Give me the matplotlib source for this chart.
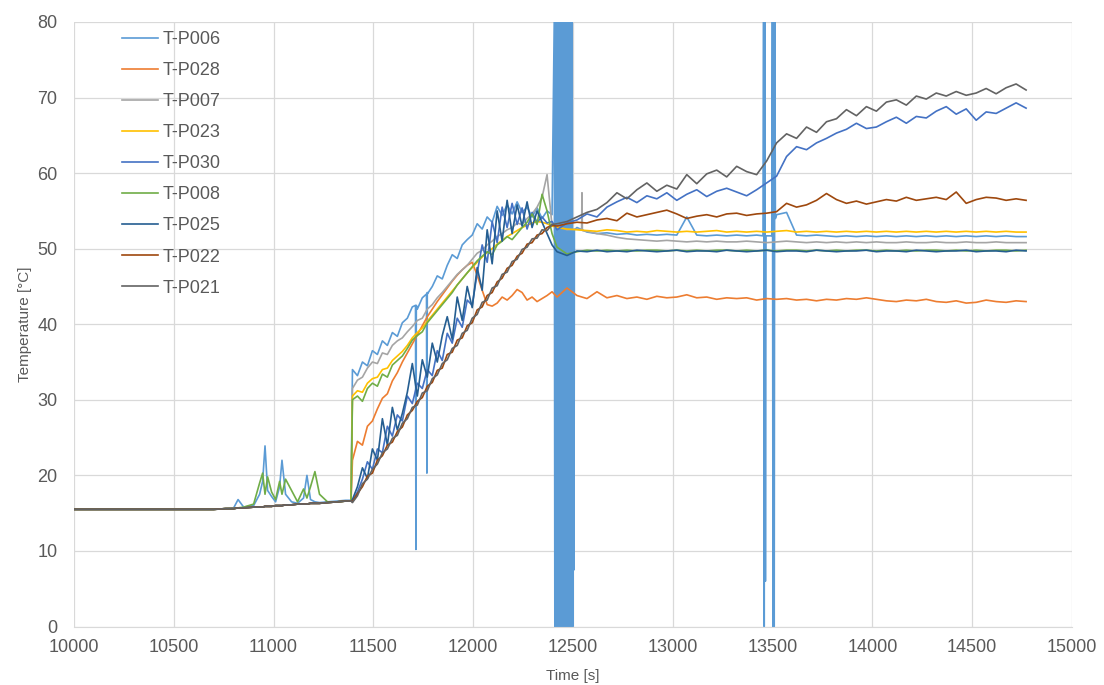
import numpy as np
import matplotlib
matplotlib.use("Agg")
import matplotlib.pyplot as plt

plt.rcParams['font.family'] = ['Liberation Sans', 'DejaVu Sans']

# sample times [s]
t_early = [10000, 10200, 10400, 10600, 10700, 10760, 10800, 10822, 10850, 10900,
           10930, 10945, 10957, 10970, 10990, 11010, 11030, 11042, 11060, 11090,
           11120, 11150, 11167, 11185, 11207, 11230, 11270, 11320, 11360, 11388]
t_rise = list(range(11395, 12396, 25))
t_late = list(range(12420, 14771, 50))

# before the heating all sensors read about the same
early_flat = [15.5, 15.5, 15.5, 15.5, 15.5, 15.6, 15.6, 15.7, 15.7, 15.8,
              15.8, 15.8, 15.9, 15.9, 15.9, 16.0, 16.0, 16.0, 16.1, 16.1,
              16.2, 16.2, 16.2, 16.3, 16.3, 16.3, 16.4, 16.5, 16.6, 16.6]

p006_early = [15.5, 15.5, 15.5, 15.5, 15.5, 15.6, 15.7, 16.8, 15.8, 16.0,
              17.5, 19.2, 23.9, 18.0, 17.2, 16.5, 18.5, 22.0, 17.5, 16.5,
              16.3, 17.0, 20.0, 16.8, 16.5, 16.4, 16.5, 16.6, 16.7, 16.7]
p006_rise = [34.0, 33.2, 35.0, 34.5, 36.5, 36.0, 37.8, 37.2, 38.9, 38.4,
             40.2, 40.8, 42.3, 42.0, 43.5, 44.2, 45.0, 46.4, 46.0, 47.8,
             49.2, 48.7, 50.5, 51.2, 51.8, 53.3, 52.6, 54.2, 53.5, 55.6,
             54.4, 55.8, 54.6, 56.2, 54.8, 55.5, 54.2, 55.4, 54.0, 55.0,
             54.5]
p006_late = [52.5, 52.3, 52.8, 52.2, 52.0, 52.1, 51.9, 52.0, 51.8, 51.9,
             51.8, 51.9, 51.8, 54.2, 51.8, 51.7, 51.8, 51.7, 51.8, 51.7,
             51.8, 51.7, 54.5, 54.8, 51.8, 51.7, 51.8, 51.7, 51.6, 51.7,
             51.6, 51.7, 51.6, 51.7, 51.6, 51.7, 51.6, 51.7, 51.6, 51.7,
             51.6, 51.7, 51.6, 51.7, 51.6, 51.7, 51.6, 51.6]
# signal dropouts of T-P006
p006_glitch_t = [11711, 11713, 11715, 11766, 11768, 11770,
                 12406, 12409, 12412, 12415, 12418, 12421, 12424, 12427, 12430, 12433,
                 12436, 12439, 12442, 12445, 12448, 12451, 12454, 12457, 12460, 12463,
                 12466, 12469, 12472, 12475, 12478, 12481, 12484, 12487, 12490, 12493,
                 12496, 12499,
                 12503, 12505, 12507,
                 13452, 13455, 13458, 13461, 13464, 13467,
                 13496, 13499, 13502, 13505, 13508, 13511, 13514]
p006_glitch_v = [42.5, 10.2, 42.5, 44.0, 20.3, 44.0,
                 80, 0, 80, 0, 80, 0, 80, 0, 80, 0,
                 80, 0, 80, 0, 80, 0, 80, 0, 80, 0,
                 80, 0, 80, 0, 80, 0, 80, 0, 80, 0,
                 80, 0,
                 52.5, 7.5, 52.5,
                 51.7, 80, 0, 80, 6.0, 51.7,
                 51.7, 80, 0, 80, 0, 80, 54.0]

p028_rise = [22.0, 24.5, 24.0, 26.5, 27.2, 28.8, 30.2, 30.8, 32.5, 33.6,
             35.0, 36.2, 37.4, 38.6, 39.8, 41.0, 42.0, 43.0, 43.9, 44.8,
             45.7, 46.5, 47.2, 47.8, 48.2, 46.5, 44.5, 42.6, 42.4, 42.8,
             43.6, 43.2, 43.8, 44.6, 44.2, 43.2, 43.6, 43.0, 43.4, 43.8,
             44.3]
p028_late = [43.6, 44.8, 43.8, 43.4, 44.3, 43.5, 43.8, 43.4, 43.6, 43.3,
             43.7, 43.5, 43.6, 43.9, 43.5, 43.6, 43.3, 43.5, 43.4, 43.5,
             43.2, 43.4, 43.3, 43.4, 43.2, 43.3, 43.1, 43.3, 43.2, 43.4,
             43.3, 43.5, 43.3, 43.1, 43.0, 43.2, 43.1, 43.3, 43.0, 42.9,
             43.1, 42.8, 42.9, 43.2, 43.0, 42.9, 43.1, 43.0]

p007_rise = [31.5, 32.6, 33.0, 34.2, 35.0, 34.8, 36.2, 36.0, 37.2, 37.8,
             38.2, 39.0, 39.7, 40.5, 40.8, 42.0, 42.6, 43.5, 44.2, 45.0,
             45.8, 46.6, 47.2, 47.8, 48.6, 49.4, 49.8, 50.5, 51.0, 51.6,
             52.0, 52.5, 52.8, 53.4, 53.2, 54.0, 54.6, 55.5, 56.8, 59.8,
             53.0]
p007_late = [53.0, 52.5, 52.6, 52.3, 52.0, 51.8, 51.5, 51.3, 51.2, 51.1,
             51.0, 51.1, 51.0, 50.9, 51.0, 50.9, 51.0, 50.9, 50.9, 51.0,
             50.9, 50.8, 50.9, 51.0, 50.9, 50.8, 50.9, 50.8, 50.9, 50.8,
             50.9, 50.8, 50.9, 50.8, 50.8, 50.9, 50.8, 50.8, 50.9, 50.8,
             50.8, 50.9, 50.8, 50.8, 50.9, 50.8, 50.8, 50.8]
p007_glitch_t = [12543, 12545, 12547]
p007_glitch_v = [52.5, 57.4, 52.4]

p023_rise = [30.5, 31.2, 31.0, 32.2, 32.8, 33.0, 34.0, 34.2, 35.2, 35.8,
             36.4, 37.2, 38.2, 38.9, 39.5, 40.4, 41.2, 42.0, 42.8, 43.6,
             44.4, 45.2, 46.0, 46.8, 47.5, 48.2, 48.9, 49.5, 50.0, 50.6,
             51.1, 51.6, 52.0, 52.4, 52.8, 53.1, 53.4, 53.6, 53.5, 53.3,
             53.0]
p023_late = [52.8, 52.6, 52.5, 52.4, 52.3, 52.5, 52.4, 52.2, 52.3, 52.2,
             52.4, 52.3, 52.2, 52.3, 52.2, 52.3, 52.4, 52.2, 52.3, 52.2,
             52.3, 52.2, 52.3, 52.4, 52.2, 52.3, 52.2, 52.3, 52.2, 52.3,
             52.2, 52.3, 52.2, 52.3, 52.2, 52.3, 52.2, 52.3, 52.2, 52.3,
             52.2, 52.3, 52.2, 52.3, 52.2, 52.3, 52.2, 52.2]

p030_rise = [16.6, 17.8, 19.5, 21.8, 20.8, 23.5, 23.0, 26.5, 25.2, 28.0,
             27.2, 30.5, 29.5, 32.2, 31.5, 34.0, 33.2, 36.5, 35.2, 38.8,
             37.5, 40.8, 39.6, 43.2, 42.5, 46.8, 50.5, 48.2, 53.6, 50.8,
             55.5, 52.8, 56.0, 53.2, 55.4, 52.6, 54.8, 53.5, 54.2, 53.4,
             53.6]
p030_late = [52.5, 53.4, 53.8, 54.6, 54.2, 55.5, 56.2, 56.8, 56.1, 57.0,
             56.6, 57.4, 56.4, 57.2, 57.8, 56.9, 57.6, 58.0, 57.5, 57.0,
             57.8, 58.7, 59.6, 62.2, 63.5, 63.1, 64.0, 64.6, 65.3, 65.8,
             66.6, 65.9, 66.1, 66.8, 67.4, 66.6, 67.5, 67.3, 68.2, 68.8,
             67.8, 68.5, 67.0, 68.1, 67.9, 68.6, 69.3, 68.6]

p008_early = [15.5, 15.5, 15.5, 15.5, 15.5, 15.6, 15.6, 15.7, 15.8, 16.2,
              19.0, 20.3, 17.5, 19.8, 17.8, 16.8, 19.2, 17.5, 19.5, 18.0,
              16.5, 18.2, 17.0, 18.5, 20.5, 17.5, 16.5, 16.5, 16.6, 16.6]
p008_rise = [30.0, 30.5, 29.8, 31.5, 32.2, 31.8, 33.4, 33.0, 34.6, 35.2,
             35.8, 36.8, 37.9, 38.5, 39.0, 40.2, 41.0, 41.8, 42.6, 43.4,
             44.2, 45.2, 46.0, 46.8, 47.6, 48.4, 49.0, 49.6, 49.2, 50.5,
             51.0, 51.6, 51.2, 52.0, 52.8, 53.5, 54.6, 53.2, 57.2, 55.0,
             52.0]
p008_late = [50.2, 49.3, 49.6, 49.8, 49.7, 49.8, 49.7, 49.8, 49.7, 49.8,
             49.8, 49.7, 49.8, 49.7, 49.8, 49.7, 49.8, 49.8, 49.7, 49.8,
             49.7, 49.8, 49.7, 49.8, 49.8, 49.7, 49.8, 49.7, 49.8, 49.7,
             49.8, 49.8, 49.7, 49.8, 49.7, 49.8, 49.7, 49.8, 49.8, 49.7,
             49.8, 49.7, 49.8, 49.7, 49.8, 49.8, 49.7, 49.8]

p025_rise = [16.8, 18.5, 21.0, 19.6, 23.5, 22.0, 27.5, 24.0, 29.0, 26.0,
             28.2, 31.0, 34.8, 30.5, 35.3, 33.0, 37.5, 35.0, 38.5, 41.0,
             38.0, 43.6, 40.5, 45.0, 42.2, 47.5, 44.5, 52.5, 48.0, 55.0,
             51.0, 56.4, 52.0, 55.8, 53.0, 56.2, 52.8, 55.0, 53.5, 52.0,
             50.5]
p025_late = [49.6, 49.1, 49.7, 49.6, 49.8, 49.6, 49.7, 49.6, 49.8, 49.7,
             49.6, 49.7, 49.8, 49.6, 49.7, 49.7, 49.6, 49.8, 49.7, 49.6,
             49.7, 49.8, 49.6, 49.7, 49.7, 49.6, 49.8, 49.7, 49.6, 49.7,
             49.7, 49.8, 49.6, 49.7, 49.7, 49.6, 49.8, 49.7, 49.6, 49.7,
             49.7, 49.8, 49.6, 49.7, 49.7, 49.6, 49.8, 49.7]

p022_rise = [16.5, 17.6, 18.5, 19.9, 20.3, 22.0, 22.6, 24.0, 24.4, 25.8,
             26.4, 28.0, 28.6, 29.8, 30.3, 31.8, 32.3, 33.9, 34.2, 36.0,
             36.3, 37.9, 38.2, 39.8, 40.2, 41.9, 42.3, 43.8, 44.2, 45.6,
             46.1, 47.4, 47.8, 49.0, 49.4, 50.6, 50.8, 51.8, 52.0, 52.8,
             53.1]
p022_late = [53.0, 53.3, 53.5, 53.4, 53.8, 54.0, 53.7, 54.7, 54.2, 54.5,
             54.8, 55.1, 54.6, 54.0, 54.3, 54.5, 54.2, 54.6, 54.7, 54.4,
             54.6, 54.7, 54.9, 56.0, 55.5, 55.8, 56.4, 57.3, 56.5, 56.0,
             56.3, 55.9, 56.2, 56.5, 56.3, 56.8, 56.4, 56.6, 56.8, 56.5,
             57.5, 56.0, 56.5, 56.8, 56.7, 56.4, 56.6, 56.4]

p021_rise = [16.4, 17.3, 18.9, 19.5, 20.8, 21.5, 23.0, 23.5, 24.9, 25.3,
             26.9, 27.5, 29.0, 29.3, 30.9, 31.2, 32.8, 33.3, 34.8, 35.3,
             36.8, 37.2, 38.8, 39.2, 40.8, 41.3, 42.9, 43.2, 44.8, 45.1,
             46.6, 46.9, 48.3, 48.6, 49.9, 50.2, 51.3, 51.4, 52.5, 52.4,
             53.2]
p021_late = [53.3, 53.6, 54.2, 54.8, 55.2, 56.1, 57.4, 56.6, 57.8, 58.7,
             57.6, 58.4, 57.9, 59.8, 58.6, 59.9, 60.4, 59.5, 60.9, 60.2,
             59.8, 61.6, 64.0, 65.2, 64.6, 66.1, 65.4, 66.8, 67.2, 68.4,
             67.6, 68.8, 68.2, 69.4, 69.7, 69.0, 70.2, 69.8, 70.6, 70.2,
             70.8, 70.3, 70.6, 71.2, 70.5, 71.3, 71.8, 71.0]

names = ['T-P006', 'T-P028', 'T-P007', 'T-P023', 'T-P030',
         'T-P008', 'T-P025', 'T-P022', 'T-P021']
colors = ['#5B9BD5', '#ED7D31', '#A5A5A5', '#FFC000', '#4472C4',
          '#70AD47', '#255E91', '#9E480E', '#636363']


def with_glitches(t, v, gt, gv):
    tt = np.concatenate([t, gt])
    vv = np.concatenate([v, gv])
    order = np.argsort(tt, kind='stable')
    return tt[order], vv[order]


t_all = np.array(t_early + t_rise + t_late, dtype=float)
series = [
    with_glitches(t_all, p006_early + p006_rise + p006_late, p006_glitch_t, p006_glitch_v),
    (t_all, early_flat + p028_rise + p028_late),
    with_glitches(t_all, early_flat + p007_rise + p007_late, p007_glitch_t, p007_glitch_v),
    (t_all, early_flat + p023_rise + p023_late),
    (t_all, early_flat + p030_rise + p030_late),
    (t_all, p008_early + p008_rise + p008_late),
    (t_all, early_flat + p025_rise + p025_late),
    (t_all, early_flat + p022_rise + p022_late),
    (t_all, early_flat + p021_rise + p021_late),
]

fig = plt.figure(figsize=(11.04, 6.85), dpi=100)
ax = fig.add_axes([74 / 1104, 1 - 626.5 / 685, 998 / 1104, 604.5 / 685])

for (tt, vv), name, c in zip(series, names, colors):
    ax.plot(tt, vv, color=c, lw=1.2, label=name, solid_joinstyle='round')

ax.set_xlim(10000, 15000)
ax.set_ylim(0, 80)
ax.set_xticks(range(10000, 15001, 500))
ax.set_yticks(range(0, 81, 10))
ax.grid(True, color='#D9D9D9', lw=0.9)
ax.set_axisbelow(True)
for s in ['top', 'right', 'left']:
    ax.spines[s].set_visible(False)
ax.spines['bottom'].set_color('#D9D9D9')
ax.tick_params(length=0, colors='#595959', labelsize=13)
ax.tick_params(axis='x', pad=9)
ax.tick_params(axis='y', pad=12)

ax.set_xlabel('Time [s]', fontsize=11, color='#595959')
ax.set_ylabel('Temperature [°C]', fontsize=11, color='#595959')
ax.xaxis.set_label_coords(0.5, -0.070)
ax.yaxis.set_label_coords(-0.042, 0.5)

ax.legend(loc='upper left', bbox_to_anchor=(122 / 1104, 1 - 31 / 685),
          bbox_transform=fig.transFigure, frameon=False, fontsize=13,
          handlelength=2.0, handletextpad=0.25, labelspacing=0.78,
          borderpad=0, borderaxespad=0, labelcolor='#595959')

fig.savefig('out.png', dpi=100)
